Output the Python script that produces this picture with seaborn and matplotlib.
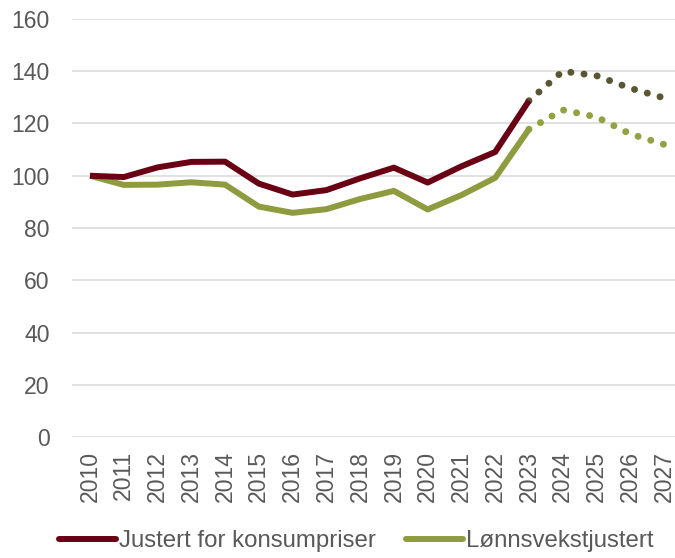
import numpy as np
import pandas as pd
import matplotlib
matplotlib.use('Agg')
import matplotlib.pyplot as plt
import seaborn as sns
from matplotlib.lines import Line2D

# Data (indeks, 2010 = 100)
years_hist = list(range(2010, 2024))
kpi_hist = [100, 99.5, 103.2, 105.3, 105.4, 97, 92.8, 94.5, 99, 103.1, 97.4, 103.6, 109.1, 128.7]
lonn_hist = [100, 96.5, 96.6, 97.5, 96.6, 88.2, 85.8, 87.2, 91.1, 94.2, 87.1, 92.6, 99.2, 117.8]

years_proj = [2023, 2024, 2025, 2026, 2027]
kpi_proj = [128.7, 140, 138.3, 133.5, 129.8]
lonn_proj = [117.8, 125.2, 122.5, 116, 112]

kpi_label = 'Justert for konsumpriser'
lonn_label = 'Lønnsvekstjustert'

c_kpi = '#6a0014'
c_lonn = '#8e9b3e'
c_kpi_proj = '#5a5532'
c_lonn_proj = '#93a140'
txt = '#595959'

sns.set_theme(style='white')
plt.rcParams['font.family'] = ['Liberation Sans', 'DejaVu Sans']

hist = pd.DataFrame({'år': years_hist, 'kpi': kpi_hist, 'lonn': lonn_hist})
proj = pd.DataFrame({'år': years_proj, 'kpi': kpi_proj, 'lonn': lonn_proj})

fig = plt.figure(figsize=(6.75, 5.58), dpi=100)
ax = fig.add_axes([72 / 675, 1 - 437 / 558, 1 - 72 / 675, (437 - 19) / 558])

dot = (0, (0.01, 1.9))
sns.lineplot(data=proj, x='år', y='kpi', ax=ax, color=c_kpi_proj, lw=5,
             linestyle=dot, dash_capstyle='round')
sns.lineplot(data=proj, x='år', y='lonn', ax=ax, color=c_lonn_proj, lw=5,
             linestyle=dot, dash_capstyle='round')
sns.lineplot(data=hist, x='år', y='lonn', ax=ax, color=c_lonn, lw=4.3,
             solid_capstyle='butt')
sns.lineplot(data=hist, x='år', y='kpi', ax=ax, color=c_kpi, lw=4.3,
             solid_capstyle='butt')

ax.set_xlim(2010 - 0.533, 2027.326)
ax.set_ylim(0, 160)
ax.set_yticks(range(0, 161, 20))
ax.set_xticks(range(2010, 2028))
ax.set_xticklabels([str(y) for y in range(2010, 2028)], rotation=90)
ax.set_xlabel('')
ax.set_ylabel('')
ax.grid(axis='y', color='#d9d9d9', lw=1.1)
ax.grid(axis='x', visible=False)
for s in ax.spines.values():
    s.set_visible(False)
ax.tick_params(axis='both', length=0, labelsize=16.6, colors=txt)
ax.tick_params(axis='x', pad=10)
ax.tick_params(axis='y', pad=16)
ax.set_clip_on(False)
for ln in ax.lines:
    ln.set_clip_on(False)

handles = [Line2D([0], [0], color=c_kpi, lw=4.3, solid_capstyle='round'),
           Line2D([0], [0], color=c_lonn, lw=4.3, solid_capstyle='round')]
leg = fig.legend(handles, [kpi_label, lonn_label], loc='center',
                 bbox_to_anchor=(356 / 675, 1 - 541 / 558), ncol=2, frameon=False,
                 fontsize=17.3, handlelength=2.4, handletextpad=0.1,
                 columnspacing=1.25, borderaxespad=0)
for t in leg.get_texts():
    t.set_color(txt)

fig.savefig('out.png', dpi=100)
